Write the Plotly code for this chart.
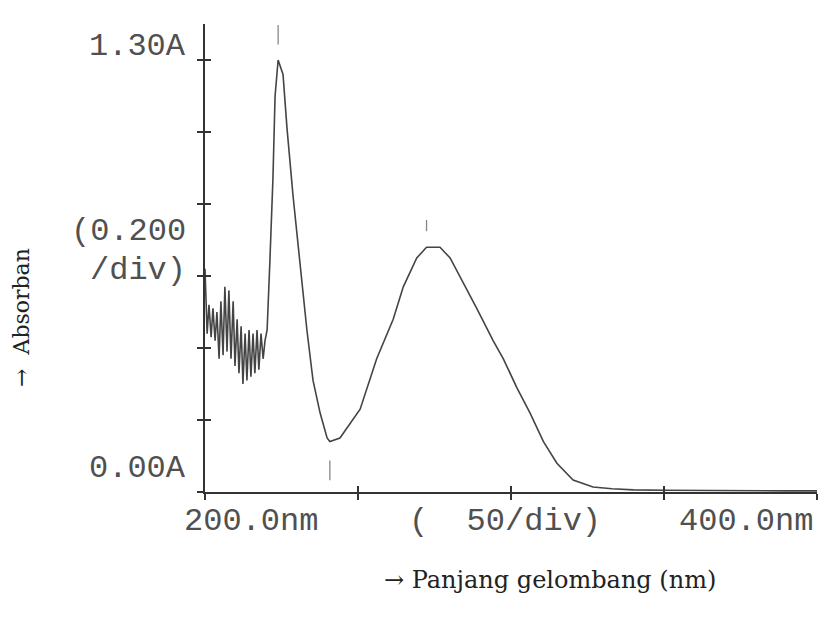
import numpy as np
import plotly.graph_objects as go

# Wavelength (nm) and absorbance
wavelength = [
    200.0, 200.7, 201.3, 202.0, 202.6, 203.3, 203.9, 204.6, 205.2, 205.9,
    206.5, 207.2, 207.8, 208.5, 209.2, 209.8, 210.5, 211.1, 211.8, 212.4,
    213.1, 213.7, 214.4, 215.0, 215.7, 216.3, 217.0, 217.6, 218.3, 219.0,
    219.6, 220.3, 221.2, 222.2, 222.9, 223.9, 225.5, 226.8, 228.8, 231.0,
    233.3, 235.3, 237.6, 239.9, 240.8, 244.1, 247.4, 250.7, 256.1, 261.5,
    264.8, 269.2, 272.4, 276.8, 280.1, 283.3, 288.8, 294.2, 297.5, 301.9,
    306.2, 310.6, 315.0, 320.3, 326.8, 333.0, 340.0, 350.0, 360.0, 370.0,
    380.0, 390.0, 400.0,
]
absorbance = [
    0.62, 0.44, 0.52, 0.43, 0.51, 0.42, 0.50, 0.37, 0.53, 0.38,
    0.57, 0.39, 0.56, 0.37, 0.53, 0.35, 0.48, 0.33, 0.46, 0.30,
    0.44, 0.31, 0.45, 0.32, 0.44, 0.33, 0.45, 0.34, 0.44, 0.37,
    0.42, 0.45, 0.64, 0.87, 1.10, 1.20, 1.16, 1.01, 0.82, 0.64,
    0.45, 0.31, 0.22, 0.15, 0.14, 0.15, 0.19, 0.23, 0.37, 0.48,
    0.57, 0.65, 0.68, 0.68, 0.65, 0.60, 0.51, 0.42, 0.37, 0.29,
    0.22, 0.14, 0.08, 0.033, 0.014, 0.009, 0.006, 0.005, 0.004, 0.004,
    0.003, 0.003, 0.003,
]

x_tick_values = [200, 250, 300, 350, 400]
y_tick_values = [0.0, 0.2, 0.4, 0.6, 0.8, 1.0, 1.2]
y_label_top = "1.30A"
y_label_bottom = "0.00A"
y_scale_label = ["(0.200", "/div)"]
x_label_left = "200.0nm"
x_label_mid = "(  50/div)"
x_label_right = "400.0nm"
x_title = "→ Panjang gelombang (nm)"
y_title = "→  Absorban"

ink = "#505050"
mono = "Liberation Mono"

wl = np.array(wavelength)
ab = np.array(absorbance)

# peak / valley markers printed by the instrument
i1 = int(np.argmax(ab[:45]))
i2 = 45 + int(np.argmax(ab[45:]))
iv = 35 + int(np.argmin(ab[35:50]))

fig = go.Figure()
fig.add_trace(go.Scatter(x=wl, y=ab, mode="lines",
                         line=dict(color="#444444", width=1.6),
                         hoverinfo="skip", showlegend=False))
fig.add_trace(go.Scatter(
    x=[wl[i1], wl[i2], wl[iv]],
    y=[ab[i1] + 0.07, ab[i2] + 0.06, ab[iv] - 0.08],
    mode="markers",
    marker=dict(symbol="line-ns", size=[14, 8, 14], color="#555555",
                line=dict(color="#555555", width=1.3)),
    hoverinfo="skip", showlegend=False))
# dummy trace for overlay axes (crossing ticks)
fig.add_trace(go.Scatter(x=[200], y=[0], xaxis="x2", yaxis="y2",
                         mode="markers", marker=dict(opacity=0),
                         hoverinfo="skip", showlegend=False))

axis_common = dict(showgrid=False, zeroline=False, showticklabels=False,
                   ticklen=6, tickcolor="#333", tickwidth=1.5)

fig.update_layout(
    width=819, height=620,
    margin=dict(l=205, r=2, t=24, b=128),
    paper_bgcolor="white", plot_bgcolor="white",
    xaxis=dict(range=[200, 400], tickvals=x_tick_values, ticks="outside",
               showline=True, linecolor="#333", linewidth=1.6, **axis_common),
    yaxis=dict(range=[0, 1.3], tickvals=y_tick_values, ticks="outside",
               showline=True, linecolor="#333", linewidth=1.6, **axis_common),
    xaxis2=dict(range=[200, 400], tickvals=x_tick_values, ticks="inside",
                overlaying="x", anchor="y2", showline=False, **axis_common),
    yaxis2=dict(range=[0, 1.3], tickvals=y_tick_values, ticks="inside",
                overlaying="y", anchor="x2", showline=False, **axis_common),
)

def ann(text, x, y, size=32, font=mono, color=ink, xanchor="center",
        textangle=0):
    fig.add_annotation(text=text, x=x, y=y, xref="paper", yref="paper",
                       showarrow=False, xanchor=xanchor, yanchor="middle",
                       textangle=textangle,
                       font=dict(family=font, size=size, color=color))

ann(y_label_top, -0.027, 0.951, xanchor="right")
ann(y_label_bottom, -0.027, 0.051, xanchor="right")
ann(y_scale_label[0], -0.027, 0.556, xanchor="right")
ann(y_scale_label[1], -0.027, 0.474, xanchor="right")
ann(x_label_left, 0.075, -0.062)
ann(x_label_mid, 0.49, -0.062)
ann(x_label_right, 0.997, -0.062, xanchor="right")
ann(y_title, -0.299, 0.372, size=22, font="DejaVu Serif",
    color="#222", textangle=-90)
ann(x_title, 0.564, -0.188, size=24, font="DejaVu Serif", color="#222")

fig.write_html("out.html", config={"displayModeBar": False},
               post_script="document.body.style.margin='0';")
